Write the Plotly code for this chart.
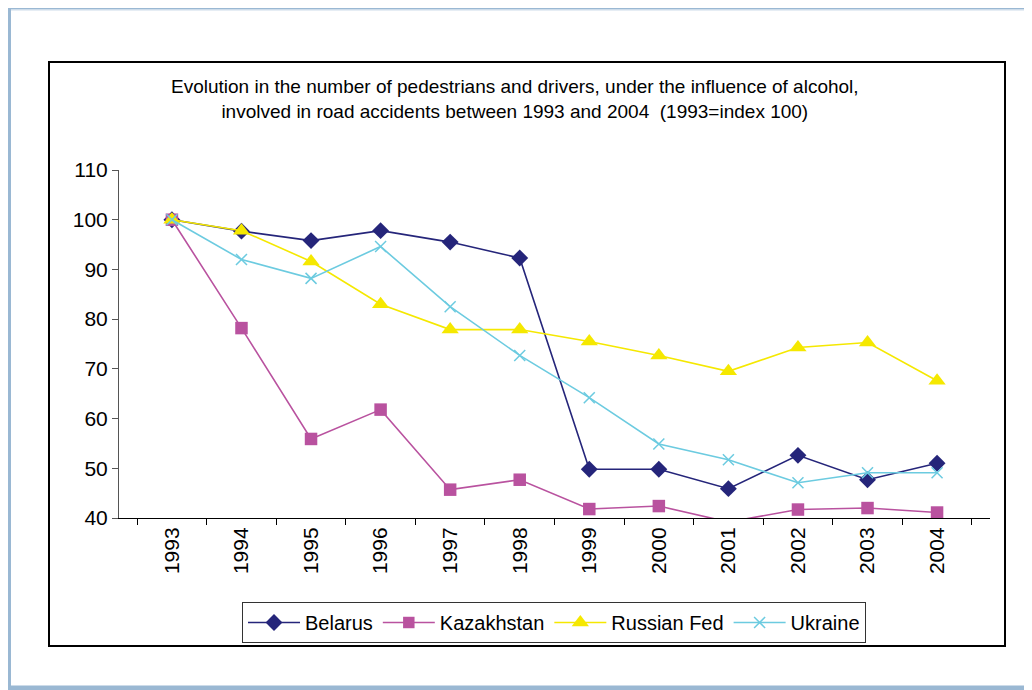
import plotly.graph_objects as go

years = ["1993", "1994", "1995", "1996", "1997", "1998", "1999", "2000", "2001", "2002", "2003", "2004"]
belarus = [100, 97.7, 95.8, 97.8, 95.5, 92.3, 49.8, 49.8, 45.9, 52.6, 47.7, 51.0]
kazakhstan = [100, 78.2, 55.9, 61.8, 45.7, 47.7, 41.8, 42.4, 39.2, 41.7, 42.0, 41.1]
russia = [100, 97.8, 91.6, 83.0, 77.9, 77.9, 75.5, 72.7, 69.5, 74.3, 75.3, 67.6]
ukraine = [100, 92.0, 88.2, 94.6, 82.5, 72.7, 64.2, 54.9, 51.7, 47.1, 49.1, 49.1]

YMIN, YMAX = 40, 110

series = [
    ("Belarus", belarus, "#25257a", "diamond", 13),
    ("Kazakhstan", kazakhstan, "#b9529f", "square", 12.5),
    ("Russian Fed", russia, "#f5e800", "triangle-up", 15),
    ("Ukraine", ukraine, "#6ccbe0", "x-thin", 11),
]

fig = go.Figure()
for name, vals, col, sym, sz in series:
    sizes = [sz if v >= YMIN else 0 for v in vals]
    if sym == "x-thin":
        marker = dict(symbol=sym, size=sizes, color=col, opacity=1, line=dict(width=1.5, color=col))
    else:
        marker = dict(symbol=sym, size=sizes, color=col, opacity=1, line=dict(width=0))
    fig.add_trace(go.Scatter(x=years, y=vals, name=name, mode="lines+markers",
                             line=dict(color=col, width=1.6), marker=marker,
                             cliponaxis=True))

OFF = 8  # page body margin
W, H = 1032 - OFF, 690 - OFF
L, R, T, B = 119 - OFF, 990 - OFF, 170 - OFF, 518 - OFF

def px(x):
    return (x - OFF - L) / (R - L)

def py(y):
    return (B - (y - OFF)) / (B - T)

shapes = [
    dict(type="line", xref="paper", yref="paper", x0=px(4), x1=px(1040), y0=py(6.5), y1=py(6.5),
         line=dict(color="#9ab8d3", width=5)),
    dict(type="line", xref="paper", yref="paper", x0=px(10), x1=px(1040), y0=py(9.8), y1=py(9.8),
         line=dict(color="#cddcea", width=1.5)),
    dict(type="line", xref="paper", yref="paper", x0=px(8.5), x1=px(8.5), y0=py(4), y1=py(692),
         line=dict(color="#9ab8d3", width=5)),
    dict(type="line", xref="paper", yref="paper", x0=px(4), x1=px(1040), y0=py(688), y1=py(688),
         line=dict(color="#9ab8d3", width=5)),
    dict(type="rect", xref="paper", yref="paper", x0=px(49), x1=px(1005), y0=py(62), y1=py(646),
         line=dict(color="black", width=2)),
]

fig.update_layout(
    width=W, height=H,
    margin=dict(l=L, r=W - R, t=T, b=H - B),
    paper_bgcolor="white", plot_bgcolor="white",
    font=dict(family="Arial, Liberation Sans, sans-serif", color="black"),
    shapes=shapes,
    showlegend=True,
    legend=dict(orientation="h", x=px(554), y=py(602), xanchor="center", yanchor="top",
                bordercolor="#333333", borderwidth=1, font=dict(size=20),
                bgcolor="white", itemwidth=52, tracegroupgap=0),
    annotations=[
        dict(text="Evolution in the number of pedestrians and drivers, under the influence of alcohol,<br>involved in road accidents between 1993 and 2004  (1993=index 100)",
             xref="paper", yref="paper", x=px(515), y=py(99), xanchor="center", yanchor="middle",
             showarrow=False, font=dict(size=19), align="center"),
    ],
)
fig.update_xaxes(type="category", tickson="boundaries", ticks="outside", ticklen=6,
                 tickcolor="black", showline=True, linecolor="black", linewidth=1,
                 showgrid=False, tickangle=-90, tickfont=dict(size=21), zeroline=False)
fig.update_yaxes(range=[YMIN, YMAX], dtick=10, ticks="outside", ticklen=6, tickcolor="#555555",
                 showline=True, linecolor="#555555", linewidth=1, showgrid=False,
                 tickfont=dict(size=21), zeroline=False)

fig.write_html("out.html")
